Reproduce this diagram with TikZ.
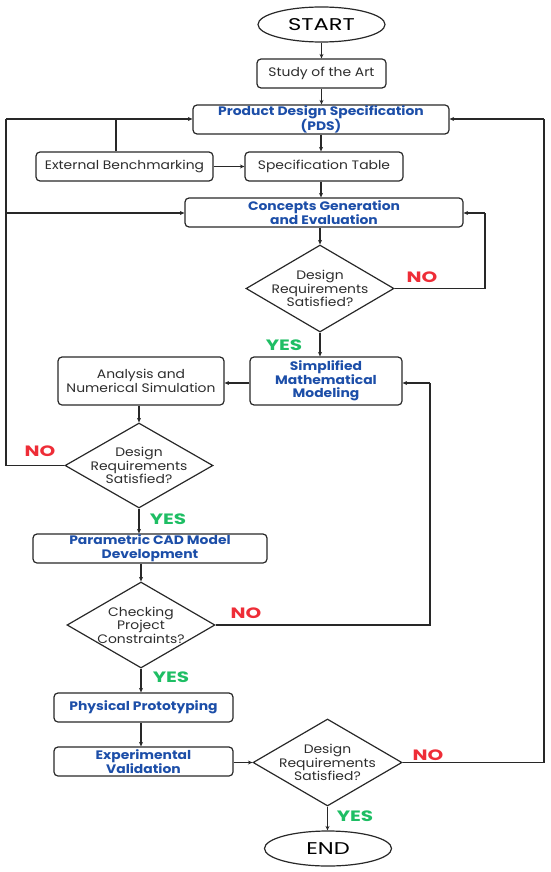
\documentclass[tikz,border=0pt]{standalone}
\usepackage{fontspec}
\setmainfont{Poppins}
\newfontfamily\wfont[FakeStretch=1.13]{Poppins}
\newfontfamily\xwfont[FakeStretch=1.33]{Poppins}
\usetikzlibrary{shapes.geometric,arrows.meta}
\definecolor{txt}{RGB}{45,45,45}
\definecolor{blu}{RGB}{28,78,168}
\definecolor{grn}{RGB}{30,190,100}
\definecolor{rd}{RGB}{238,45,55}
\definecolor{ln}{RGB}{40,40,40}
\tikzset{
  box/.style={draw=ln,line width=1.2pt,rounded corners=4pt,inner sep=0pt,align=center,
    font=\wfont\fontsize{12.3}{13.6}\selectfont,text=txt,minimum height=29pt},
  bbox/.style={box,font=\wfont\fontsize{12.3}{13.6}\selectfont\bfseries,text=blu},
  term/.style={draw=ln,line width=1.2pt,ellipse,inner sep=0pt,minimum width=127pt,minimum height=35pt,
    font=\xwfont\fontsize{17}{19}\selectfont,text=black},
  dec/.style={draw=ln,line width=1.2pt,diamond,aspect=1.7,inner sep=0pt,minimum width=148pt,minimum height=87pt},
  dtext/.style={align=center,inner sep=0pt,font=\wfont\fontsize{12.3}{13.6}\selectfont,text=txt},
  arr/.style={draw=ln,line width=1.1pt,-{Stealth[length=4.5pt,width=4pt]}},
  ln/.style={draw=ln,line width=1.1pt},
  yes/.style={font=\xwfont\fontsize{15}{17}\selectfont\bfseries,text=grn},
  no/.style={font=\xwfont\fontsize{15}{17}\selectfont\bfseries,text=rd},
}
\begin{document}
\begin{tikzpicture}[x=1pt,y=-1pt]
\useasboundingbox (0,0) rectangle (550,872);
\node[term] (start) at (321.5,24.5) {START};
\node[box,minimum width=129pt] (study) at (321.5,73.5) {Study of the Art};
\node[bbox,minimum width=256pt] (pds) at (321,119.5) {Product Design Specification\\(PDS)};
\node[box,minimum width=177pt] (ext) at (124.5,166.5) {External Benchmarking};
\node[box,minimum width=158pt] (spec) at (324,166.5) {Specification Table};
\node[bbox,minimum width=278pt] (conc) at (324,212.5) {Concepts Generation\\and Evaluation};
\node[dec] (d1) at (320,288.5) {};
\node[dtext] (d1t) at (d1) {Design\\Requirements\\Satisfied?};
\node[bbox,minimum width=152pt,minimum height=48pt] (simp) at (326,381) {Simplified\\Mathematical\\Modeling};
\node[box,minimum width=166pt,minimum height=48pt] (ana) at (141,381) {Analysis and\\Numerical Simulation};
\node[dec,minimum height=85pt] (d2) at (139,465.5) {};
\node[dtext] (d2t) at (d2) {Design\\Requirements\\Satisfied?};
\node[bbox,minimum width=234pt] (par) at (150,548.5) {Parametric CAD Model\\Development};
\node[dec,minimum height=86pt] (d3) at (141,625) {};
\node[dtext] (d3t) at (d3) {Checking\\Project\\Constraints?};
\node[bbox,minimum width=179pt] (phys) at (143.5,707.5) {Physical Prototyping};
\node[bbox,minimum width=179pt] (exp) at (143.5,761.5) {Experimental\\Validation};
\node[dec,minimum width=149pt] (d4) at (327.5,762.5) {};
\node[dtext] (d4t) at (d4) {Design\\Requirements\\Satisfied?};
\node[term] (end) at (328,848.5) {END};

\node[no] (no1) at (422,277) {NO};
\node[yes] (yes1) at (284,345) {YES};
\node[no] (no2) at (40,451) {NO};
\node[yes] (yes2) at (168,519) {YES};
\node[no] (no3) at (246,613) {NO};
\node[yes] (yes3) at (171,677) {YES};
\node[no] (no4) at (428,755) {NO};
\node[yes] (yes4) at (355,816) {YES};

\coordinate (lt) at (6,119);
\coordinate (lc) at (6,213);
\coordinate (lb) at (6,465.5);
\coordinate (r1) at (485,288.5);
\coordinate (r1t) at (485,213);
\coordinate (r3) at (430,625);
\coordinate (r3t) at (430,383);
\coordinate (r4) at (544,762.5);
\coordinate (r4t) at (544,119);
\coordinate (eb) at (116,151.4);
\coordinate (ebt) at (116,119);

\draw[arr] (start) -- (study);
\draw[arr] (study) -- (study.south |- pds.north);
\draw[arr] (pds.south -| 321,0) -- (321,0 |- spec.north);
\draw[arr] (ext) -- (spec);
\draw[arr] (spec.south -| 321,0) -- (321,0 |- conc.north);
\draw[arr] (conc.south -| d1.north) -- (d1.north);
\draw[ln] (d1.east) -- (r1) -- (r1t);
\draw[arr] (r1t) -- (r1t -| conc.east);
\draw[arr] (d1.south) -- (d1.south |- simp.north);
\draw[arr] (simp.west |- r3t) -- (ana.east |- r3t);
\draw[arr] (ana.south -| d2.north) -- (d2.north);
\draw[ln] (d2.west) -- (lb) -- (lt);
\draw[arr] (lt) -- (lt -| pds.west);
\draw[arr] (lc) -- (lc -| conc.west);
\draw[ln] (eb) -- (ebt);
\draw[arr] (d2.south) -- (d2.south |- par.north);
\draw[arr] (par.south -| d3.north) -- (d3.north);
\draw[ln] (d3.east) -- (r3) -- (r3t);
\draw[arr] (r3t) -- (r3t -| simp.east);
\draw[arr] (d3.south) -- (d3.south |- phys.north);
\draw[arr] (phys.south -| d3.south) -- (d3.south |- exp.north);
\draw[arr] (exp.east |- d4.west) -- (d4.west);
\draw[ln] (d4.east) -- (r4) -- (r4t);
\draw[arr] (r4t) -- (r4t -| pds.east);
\draw[arr] (d4.south) -- (d4.south |- end.north);
\end{tikzpicture}
\end{document}
